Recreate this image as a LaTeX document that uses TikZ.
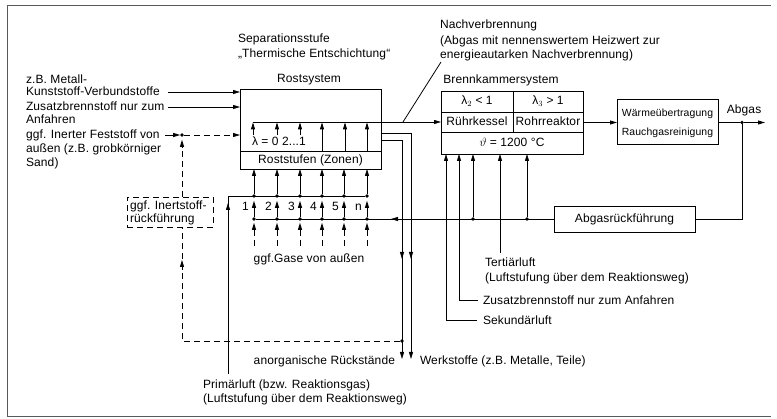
\documentclass[tikz,border=0pt]{standalone}
\usepackage{fontspec}
\setmainfont{Liberation Sans}[LetterSpace=1]
\usetikzlibrary{arrows.meta,calc}
\begin{document}
\begin{tikzpicture}[x=1pt,y=-1pt,
  every node/.style={font=\fontsize{12}{14}\selectfont, inner sep=0pt, outer sep=0pt},
  lbl/.style={text height=8.6pt, text depth=2.5pt},
  small/.style={font=\fontsize{10.4}{13}\selectfont},
  ln/.style={line width=0.8pt},
  arr/.style={ln, -{Triangle[length=7pt,width=4pt]}},
  dsh/.style={ln, dash pattern=on 6pt off 4pt},
  darr/.style={dsh, -{Triangle[length=7pt,width=4pt]}},
  box/.style={draw, line width=0.8pt, lbl},
  dot/.style={circle, fill, inner sep=0pt, minimum size=3.6pt},
  frame/.style={line width=0.9pt, black!65}
]
\useasboundingbox (0,0) rectangle (777,419);
% frame
\coordinate (f1) at (7,5); \coordinate (f2) at (771,5);
\coordinate (f3) at (7,416); \coordinate (f4) at (771,416);
\draw[frame] (f2) -- (f1) -- (f3) -- (f4);

% left texts
\node[lbl, anchor=west] (tA) at (26,80) {z.B. Metall-};
\node[lbl, anchor=west] (tB) at (26,92) {Kunststoff-Verbundstoffe};
\node[lbl, anchor=west] (tC) at (26,107) {Zusatzbrennstoff nur zum};
\node[lbl, anchor=west] (tD) at (26,120) {Anfahren};
\node[lbl, anchor=west] (tE) at (26,135) {ggf. Inerter Feststoff von};
\node[lbl, anchor=west] (tF) at (26,149) {außen (z.B. grobkörniger};
\node[lbl, anchor=west] (tG) at (26,163) {Sand)};

% Rostsystem
\node[lbl] (sepA) [anchor=west] at (238,39) {Separationsstufe};
\node[lbl] (sepB) [anchor=west] at (238,54) {„Thermische Entschichtung“};
\node[lbl] (rostT) at (309,79) {Rostsystem};
\node[box, minimum width=141pt, minimum height=80pt] (rost) at (310.5,129) {};
\node[box, minimum width=141pt, minimum height=18pt] (stufen) at (310.5,160) {Roststufen (Zonen)};
\node[lbl, anchor=west] (lam) at (252,142.5) {λ = 0 2...1};

% inputs left
\coordinate (kB) at (168,92);
\coordinate (kC) at (168,107);
\coordinate (kE) at (165,135);
\node[dot] (dE) at (182,135) {};
\draw[arr] (kB) -- (kB -| rost.west);
\draw[arr] (kC) -- (kC -| rost.west);
\draw[arr] (kE) -- (dE);
\draw[darr] (dE) -- (dE -| rost.west);

% Inertstoffrueckfuehrung
\node[box, dashed, dash pattern=on 6pt off 4pt, minimum width=86pt, minimum height=30pt] (inert) at (170,212) {};
\node[lbl, anchor=west] (inA) at (130,206) {ggf. Inertstoff-};
\node[lbl, anchor=west] (inB) at (130,219) {rückführung};
\node[dot] (dR) at (402,341) {};
\draw[darr, shorten >=3pt] (dE |- inert.north) -- (dE);
\draw[dsh] (dR) -- (dR -| dE) -- (dE |- inert.south);
\draw[arr] (182,270) -- (182,260);

% Brennkammersystem
\node[lbl] (brennT) at (501,80) {Brennkammersystem};
\node[box, minimum width=142pt, minimum height=63pt] (brenn) at (512,122.5) {};
\draw[ln] ($(brenn.north west)+(0,21)$) -- ($(brenn.north east)+(0,21)$);
\draw[ln] ($(brenn.north west)+(0,41)$) -- ($(brenn.north east)+(0,41)$);
\draw[ln] ($(brenn.north)+(1,0)$) -- ($(brenn.north)+(1,41)$);
\node[lbl] (l2) at (477,101.5) {λ$_2$ < 1};
\node[lbl] (l3) at (548,101.5) {λ$_3$ > 1};
\node[lbl] (ruehr) at (477,122) {Rührkessel};
\node[lbl] (rohr) at (548,122) {Rohrreaktor};
\node[lbl] (theta) at (512,143) {$\vartheta$ = 1200 °C};

% inner grate line and arrows
\coordinate (iL) at (253,122);
\draw[arr] (iL) -- (iL -| brenn.west);
\foreach \x in {253,277,300} \draw[arr] (\x,135.5) -- (\x,122.4);
\foreach \x in {322,345,367} \draw[arr] (\x,151) -- (\x,122.4);

% Nachverbrennung
\node[lbl, anchor=west] (nvA) at (440,25) {Nachverbrennung};
\node[lbl, anchor=west] (nvB) at (440,41) {(Abgas mit nennenswertem Heizwert zur};
\node[lbl, anchor=west] (nvC) at (440,55) {energieautarken Nachverbrennung)};
\coordinate (nv1) at (441,62); \coordinate (nv2) at (403,122);
\draw[ln] (nv1) -- (nv2);

% Waermeuebertragung
\node[box, minimum width=101pt, minimum height=45pt] (waerme) at (667.5,121.5) {};
\node[lbl, small] (wA) at (667.5,113) {Wärmeübertragung};
\node[lbl, small] (wB) at (667.5,132) {Rauchgasreinigung};
\draw[arr] (brenn.east) -- (brenn.east -| waerme.west);
\node[dot] (dA) at (742,122.5) {};
\coordinate (abgEnd) at (765,122.5);
\node[lbl] (abgT) at (744,110) {Abgas};
\draw[ln] (waerme.east |- dA) -- (dA);
\draw[arr] (dA) -- (abgEnd);

% Abgasrueckfuehrung
\node[box, minimum width=141pt, minimum height=26pt] (abgr) at (624.5,219) {Abgasrückführung};
\draw[ln] (dA) -- (dA |- abgr) -- (abgr.east);

% grate zones
\foreach \x/\n [count=\i] in {254/1,277/2,300/3,322/4,344/5,367/n} {
  \node[dot] (u\i) at (\x,196) {};
  \node[dot] (w\i) at (\x,219) {};
  \draw[arr] (u\i) -- (u\i |- stufen.south);
  \draw[arr, shorten >=3pt] (w\i) -- (u\i);
  \coordinate (g\i) at (\x,236);
  \draw[arr, shorten >=2pt] (g\i) -- (w\i);
  \draw[ln] (\x,240) -- (\x,246);
  \node[lbl] (z\i) at (\x-8.5,207) {\n};
}
\node[lbl] (gase) at (309,259) {ggf.Gase von außen};

% Primaerluft
\coordinate (pB) at (228,374);
\draw[ln] (pB) -- (pB |- u1) -- (u6);
\draw[arr] (228,215) -- (228,203);
\node[lbl, anchor=west] (pA) at (203,385) {Primärluft (bzw. Reaktionsgas)};
\node[lbl, anchor=west] (pC) at (203,399) {(Luftstufung über dem Reaktionsweg)};

% lower line (Abgasrueckfuehrung -> Roststufen)
\draw[ln] (abgr.west) -- (w1);
\draw[arr] (403,219) -- (391,219);
\node[dot] (b1) at (473,219) {};
\node[dot] (b2) at (527,219) {};
\draw[arr] (b1) -- (b1 |- brenn.south);
\draw[arr] (b2) -- (b2 |- brenn.south);

% secondary / fuel / tertiary
\coordinate (sekC) at (446,320); \coordinate (sekE) at (477,320);
\coordinate (zusC) at (459,300); \coordinate (zusE) at (478,300);
\coordinate (terB) at (500,253);
\draw[arr] (sekE) -- (sekC) -- (sekC |- brenn.south);
\draw[arr] (zusE) -- (zusC) -- (zusC |- brenn.south);
\draw[arr] (terB) -- (terB |- brenn.south);
\node[lbl, anchor=west] (terA) at (485,263) {Tertiärluft};
\node[lbl, anchor=west] (terC) at (485,278) {(Luftstufung über dem Reaktionsweg)};
\node[lbl, anchor=west] (zusT) at (483,301) {Zusatzbrennstoff nur zum Anfahren};
\node[lbl, anchor=west] (sekT) at (483,321) {Sekundärluft};

% outlets of grate
\coordinate (o1) at ($(rost.east)+(0,4)$);
\coordinate (o2) at ($(rost.east)+(0,11)$);
\coordinate (wEnd) at (411,359);
\coordinate (aEnd) at (402,359);
\draw[arr] (o1) -- (o1 -| wEnd) -- (wEnd);
\draw[arr] (o2) -- (o2 -| aEnd) -- (aEnd);
\draw[arr] (411,246) -- (411,259);
\draw[arr] (402,246) -- (402,259);
\node[lbl, anchor=east] (anT) at (395,361) {anorganische Rückstände};
\node[lbl, anchor=west] (weT) at (420,361) {Werkstoffe (z.B. Metalle, Teile)};
\end{tikzpicture}
\end{document}
